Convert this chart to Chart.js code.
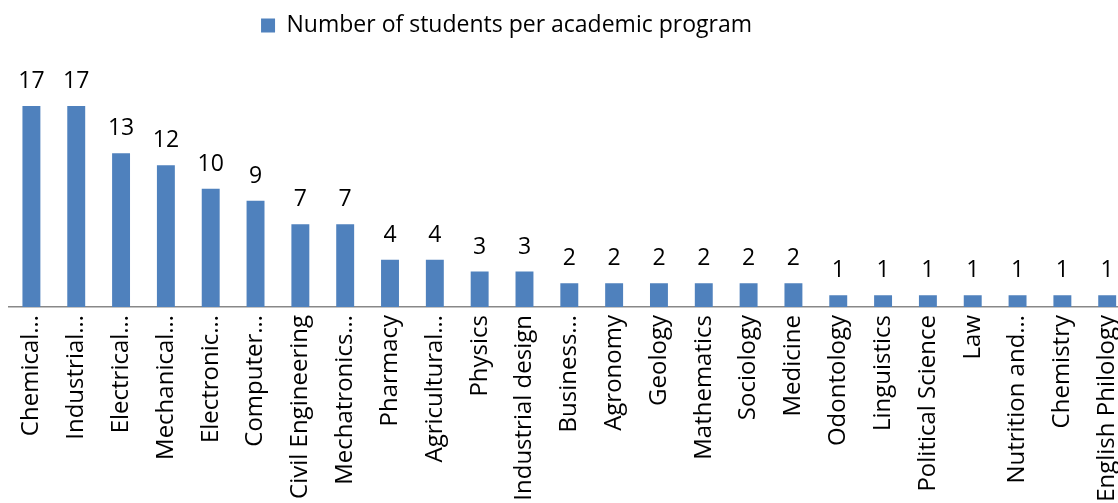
<!DOCTYPE html>
<html>
<head>
<meta charset="utf-8">
<script src="https://cdn.jsdelivr.net/npm/chart.js@4"></script>
<style>
  html, body { margin: 0; padding: 0; background: #fff; overflow: hidden; }
  #wrap { width: 1118px; height: 503px; overflow: hidden; }
</style>
</head>
<body>
<div id="wrap"><canvas id="chart" width="1144" height="503"></canvas></div>
<script>
// Programmes (libellés tels qu'affichés, tronqués) et nombre d'étudiants
const programs = [
  "Chemical…", "Industrial…", "Electrical…", "Mechanical…", "Electronic…",
  "Computer…", "Civil Engineering", "Mechatronics…", "Pharmacy", "Agricultural…",
  "Physics", "Industrial design", "Business…", "Agronomy", "Geology",
  "Mathematics", "Sociology", "Medicine", "Odontology", "Linguistics",
  "Political Science", "Law", "Nutrition and…", "Chemistry", "English Philology"
];
const students = [17, 17, 13, 12, 10, 9, 7, 7, 4, 4, 3, 3, 2, 2, 2, 2, 2, 2, 1, 1, 1, 1, 1, 1, 1];
const seriesName = "Number of students per academic program";

const FONT = "'Open Sans', 'Noto Sans', sans-serif";

// Affiche la valeur au-dessus de chaque barre
const valueLabels = {
  id: "valueLabels",
  afterDatasetsDraw(chart) {
    const ctx = chart.ctx;
    const meta = chart.getDatasetMeta(0);
    ctx.save();
    ctx.font = "23px " + FONT;
    ctx.fillStyle = "#000";
    ctx.textAlign = "center";
    ctx.textBaseline = "alphabetic";
    meta.data.forEach((bar, i) => {
      ctx.fillText(String(students[i]), bar.x, bar.y - 18);
    });
    ctx.restore();
  }
};

// Décale la légende vers la gauche (le canvas dépasse à droite)
const legendShift = {
  id: "legendShift",
  afterLayout(chart) {
    const lg = chart.legend;
    if (!lg) return;
    lg.left -= 70;
    lg.right -= 70;
  }
};

new Chart(document.getElementById("chart"), {
  type: "bar",
  data: {
    labels: programs,
    datasets: [{
      label: seriesName,
      data: students,
      backgroundColor: "#4F81BD",
      borderWidth: 0,
      categoryPercentage: 1,
      barPercentage: 0.4
    }]
  },
  options: {
    responsive: false,
    animation: false,
    layout: { padding: { left: 9, right: 0, top: 4, bottom: 0 } },
    plugins: {
      legend: {
        position: "top",
        labels: {
          boxWidth: 14,
          boxHeight: 14,
          color: "#000",
          font: { family: FONT, size: 23 },
          padding: 10
        }
      },
      tooltip: { enabled: false }
    },
    scales: {
      x: {
        grid: { display: false, drawTicks: false },
        border: { display: true, color: "#888", width: 1.5 },
        ticks: {
          color: "#000",
          font: { family: FONT, size: 24 },
          minRotation: 90,
          maxRotation: 90,
          autoSkip: false,
          padding: 8
        },
        afterFit(scale) { scale.height = 196; }
      },
      y: {
        display: false,
        min: 0,
        max: 22
      }
    }
  },
  plugins: [valueLabels, legendShift]
});
</script>
</body>
</html>
